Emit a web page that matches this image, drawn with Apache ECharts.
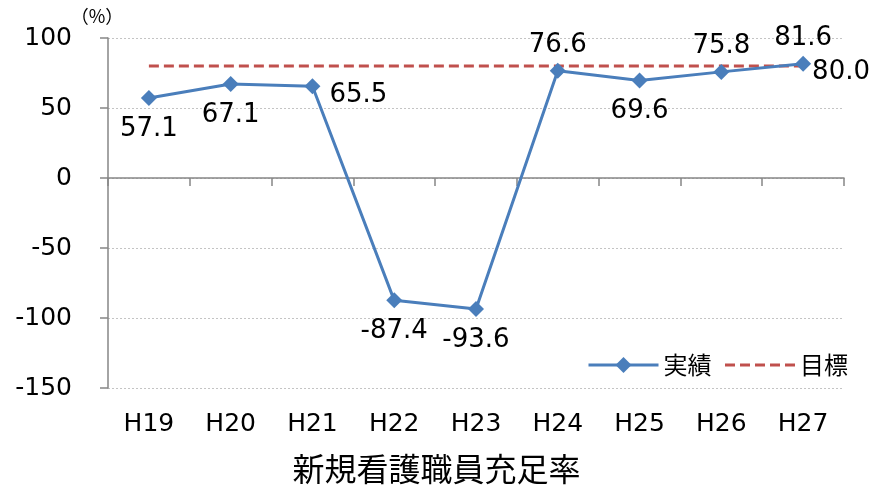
<!DOCTYPE html>
<html><head><meta charset="utf-8">
<script src="https://cdn.jsdelivr.net/npm/echarts@6/dist/echarts.min.js"></script>
<style>html,body{margin:0;padding:0;background:#fff}#c{width:873px;height:487px}</style>
</head><body><div id="c"></div>
<script>
const categories = ['H19','H20','H21','H22','H23','H24','H25','H26','H27'];
const actual = [57.1, 67.1, 65.5, -87.4, -93.6, 76.6, 69.6, 75.8, 81.6];
const target = [80, 80, 80, 80, 80, 80, 80, 80, 80];
const yTicks = { min: -150, max: 100, interval: 50 };
const seriesNames = ['実績', '目標'];
const titleText = '新規看護職員充足率';
const unitText = '（%）';

const labelPlace = ['bottom','bottom','right','bottom','bottom','top','bottom','top','top'];
const FONT = '"DejaVu Sans", Verdana, sans-serif';
const CJK = '"Noto Sans CJK JP", sans-serif';

function labelFor(pos) {
  if (pos === 'top') return { position: 'top', distance: 5 };
  if (pos === 'right') return { position: 'right', distance: 9, offset: [0, 9] };
  return { position: 'bottom', distance: 10 };
}

const chart = echarts.init(document.getElementById('c'), null, {renderer:'canvas'});
chart.setOption({
  animation: false,
  backgroundColor: '#fff',
  title: { text: titleText, left: 'center', top: 448,
    textStyle: { fontFamily: CJK, fontSize: 32, fontWeight: 'normal', color: '#000' } },
  grid: { left: 108, right: 29, top: 38, bottom: 99 },
  legend: {
    right: 20, top: 348, itemWidth: 70, itemHeight: 20, itemGap: 12,
    textStyle: { fontFamily: CJK, fontSize: 24, color: '#000' },
    lineStyle: { width: 3 },
    data: [{ name: seriesNames[0] }, { name: seriesNames[1], itemStyle: { opacity: 0 } }]
  },
  xAxis: [
    { type: 'category', data: categories, position: 'bottom',
      axisLine: { onZero: true, lineStyle: { color: '#868686', width: 1.5 } },
      axisTick: { show: true, length: 8, lineStyle: { color: '#868686', width: 1.5 } },
      axisLabel: { show: false }, splitLine: { show: false } },
    { type: 'category', data: categories, position: 'bottom',
      axisLine: { show: false, onZero: false }, axisTick: { show: false },
      axisLabel: { margin: 24, fontFamily: FONT, fontSize: 25, color: '#000' },
      splitLine: { show: false } }
  ],
  yAxis: {
    type: 'value', min: yTicks.min, max: yTicks.max, interval: yTicks.interval,
    name: unitText, nameLocation: 'end', nameGap: 9,
    nameTextStyle: { fontFamily: CJK, fontSize: 18, color: '#000', padding: [0, 22, 0, 0] },
    axisLine: { show: true, lineStyle: { color: '#868686', width: 1.5 } },
    axisTick: { show: true, length: 8, lineStyle: { color: '#868686', width: 1.5 } },
    axisLabel: { margin: 36, fontFamily: FONT, fontSize: 25, color: '#000' },
    splitLine: { show: true, lineStyle: { color: '#c4c4c4', width: 1, type: [2, 2] } }
  },
  series: [
    { name: seriesNames[0], type: 'line', xAxisIndex: 0,
      data: actual.map((v, i) => ({ value: v, label: labelFor(labelPlace[i]) })),
      color: '#4A7EBB',
      lineStyle: { width: 3, color: '#4A7EBB' },
      itemStyle: { color: '#4A7EBB' },
      symbol: 'diamond', symbolSize: 16, z: 3,
      label: { show: true, fontFamily: FONT, fontSize: 26, color: '#000',
        formatter: p => p.value.toFixed(1) } },
    { name: seriesNames[1], type: 'line', xAxisIndex: 0,
      data: target,
      color: '#C0504D',
      lineStyle: { width: 3, color: '#C0504D', type: [10, 5] },
      itemStyle: { color: '#C0504D' },
      symbol: 'none', z: 2,
      endLabel: { show: true, distance: 9, offset: [0, 6], fontFamily: FONT, fontSize: 26, color: '#000',
        formatter: p => Number(p.value).toFixed(1) } }
  ]
});
</script></body></html>
